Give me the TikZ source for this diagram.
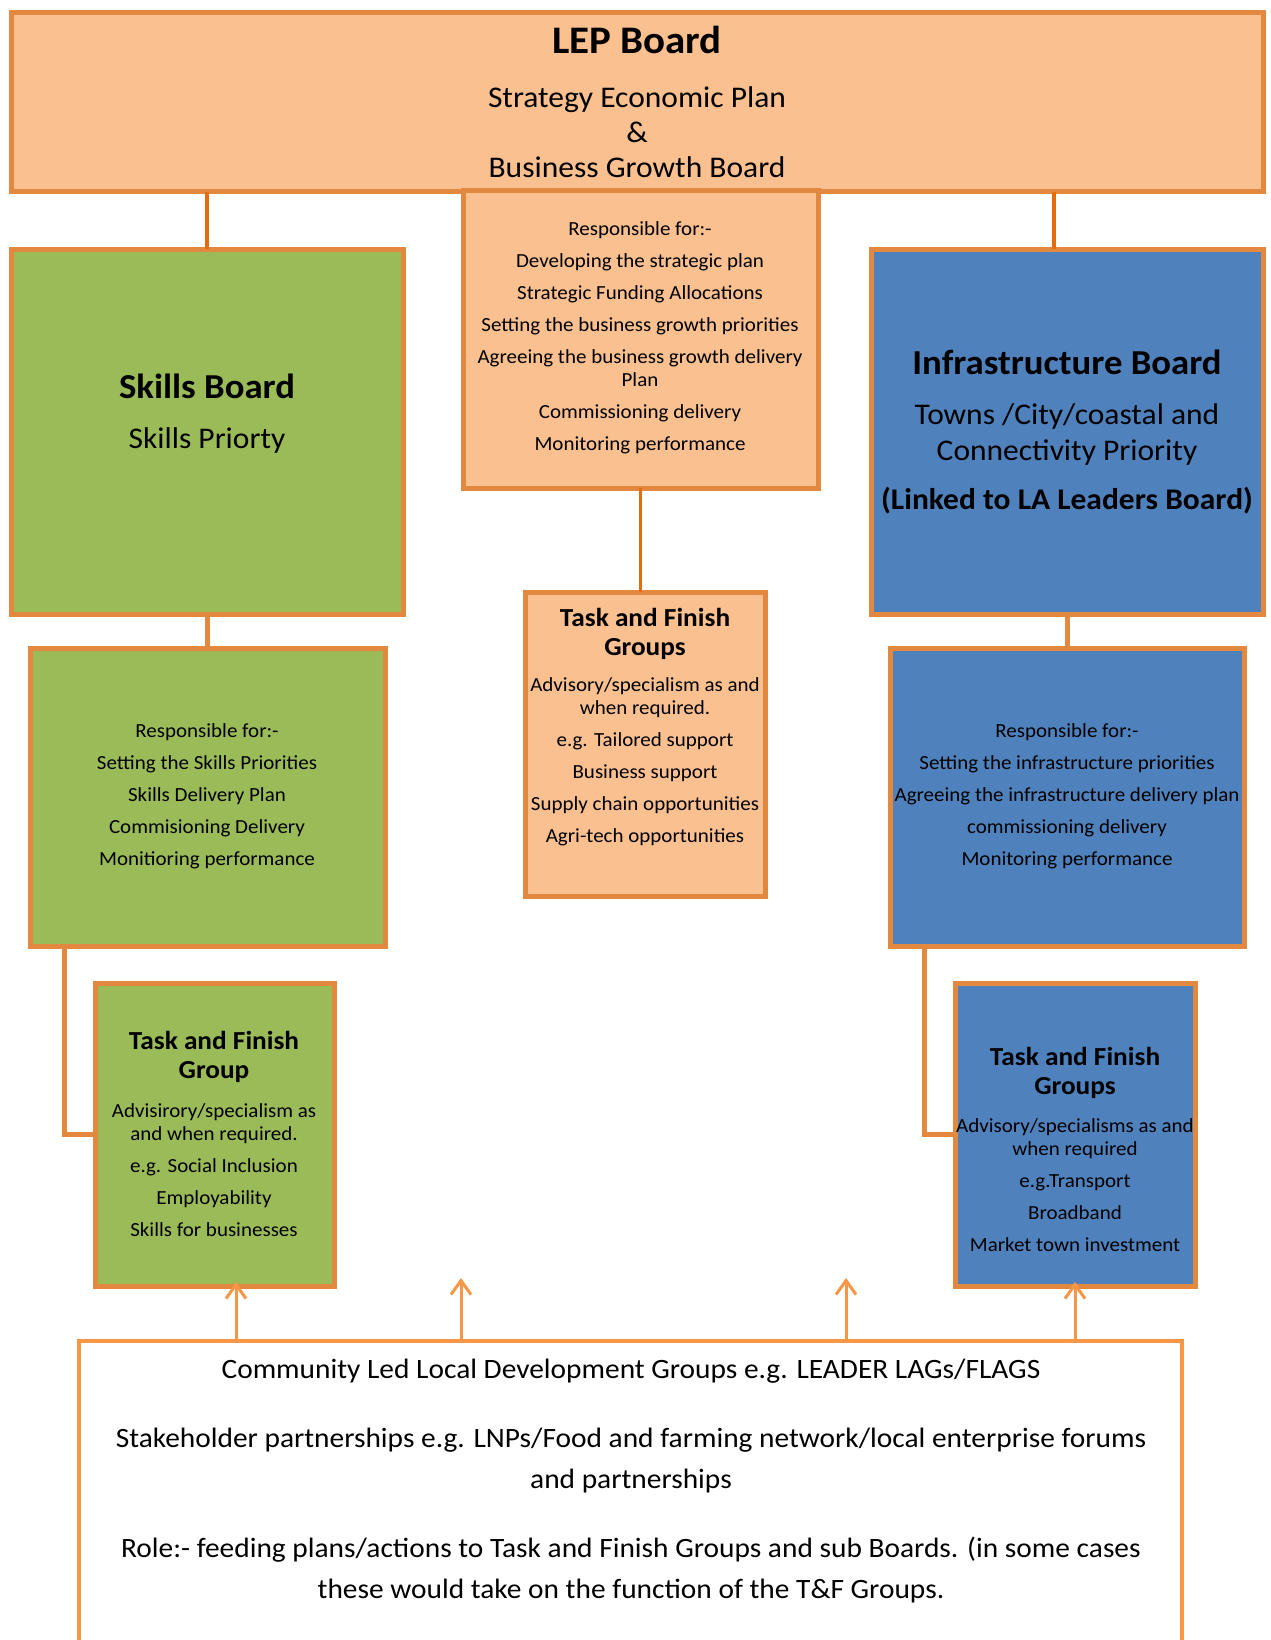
\documentclass[tikz,border=0pt]{standalone}
\usepackage{fontspec}
\setmainfont{Carlito}[FakeStretch=1.05]
\usetikzlibrary{arrows.meta}
\definecolor{peach}{HTML}{FAC090}
\definecolor{bord}{HTML}{E3893F}
\definecolor{darko}{HTML}{E46C0A}
\definecolor{grn}{HTML}{9BBB59}
\definecolor{blu}{HTML}{4F81BD}
\definecolor{arro}{HTML}{F79646}
\begin{document}
\begin{tikzpicture}[x=1pt,y=-1pt,
  boxs/.style={draw=bord,line width=5pt,rectangle,inner sep=0pt,outer sep=0pt,anchor=north west},
  txt/.style={align=center,inner sep=0pt,text=black},
  small/.style={txt,font=\fontsize{20}{23}\selectfont},
  tfh/.style={txt,font=\fontsize{26}{29}\selectfont\bfseries},
  bigh/.style={txt,font=\fontsize{35}{42}\selectfont\bfseries},
  subt/.style={txt,font=\fontsize{30}{36}\selectfont},
  bott/.style={txt,font=\fontsize{28}{41}\selectfont},
  lepl/.style={draw=darko,line width=3.5pt},
  conn/.style={draw=bord,line width=5pt},
  arrs/.style={draw=arro,line width=3pt,-{Straight Barb[length=14pt,width=20pt]}}
]
\useasboundingbox (0,0) rectangle (1270,1640);
\clip (0,0) rectangle (1270,1640);
\fill[white] (0,0) rectangle (1270,1640);

% connector coordinates
\coordinate (lx) at (1054,0);
\coordinate (e1) at (64,0);
\coordinate (e2) at (924,0);
\coordinate (t1) at (236,1282);
\coordinate (t2) at (461,1278);
\coordinate (t3) at (846,1278);
\coordinate (t4) at (1075,1282);

% top board
\node[boxs,fill=peach,minimum width=1252pt,minimum height=179pt] (lep) at (11,13) {};
\node[txt,font=\fontsize{39}{47}\selectfont\bfseries] (lepT) at (637,40) {LEP Board};
\node[subt,font=\fontsize{30}{35}\selectfont] (lepS) at (637,132) {Strategy Economic Plan\\\&\\Business Growth Board};

% sub boards
\node[boxs,fill=grn,minimum width=392pt,minimum height=365pt] (skb) at (11,249) {};
\node[boxs,fill=blu,minimum width=392pt,minimum height=365pt] (inb) at (871,249) {};

% connectors (drawn under boxes)
\draw[lepl] (lep.south -| skb.north) -- (skb.north);
\draw[lepl] (lep.south -| lx) -- (inb.north -| lx);

\node[boxs,fill=peach,minimum width=355pt,minimum height=297pt] (cresp) at (463,191) {};
\node[boxs,fill=peach,minimum width=240pt,minimum height=304pt] (ctf) at (525,592) {};
\draw[lepl] (cresp.south) -- (cresp.south |- ctf.north);

\node[boxs,fill=grn,minimum width=355pt,minimum height=298pt] (skr) at (30,648) {};
\node[boxs,fill=blu,minimum width=354pt,minimum height=298pt] (inr) at (890,648) {};
\draw[conn] (skb.south) -- (skb.south |- skr.north);
\draw[conn] (inb.south) -- (inb.south |- inr.north);

\node[boxs,fill=grn,minimum width=239pt,minimum height=303pt] (sktf) at (95,983) {};
\node[boxs,fill=blu,minimum width=240pt,minimum height=303pt] (intf) at (955,983) {};
\draw[conn,line join=miter] (skr.south -| e1) |- (sktf.west);
\draw[conn,line join=miter] (inr.south -| e2) |- (intf.west);

\node[boxs,draw=arro,line width=4pt,fill=white,minimum width=1103pt,minimum height=360pt] (bot) at (79,1341) {};

% texts
\node[small] (crespT) at (640,338) {Responsible for:-\\[9pt]Developing the strategic plan\\[9pt]Strategic Funding Allocations\\[9pt]Setting the business growth priorities\\[9pt]Agreeing the business growth delivery\\Plan\\[9pt]Commissioning delivery\\[9pt]Monitoring performance};

\node[bigh] (skbT) at (207,386) {Skills Board};
\node[subt] (skbS) at (207,440) {Skills Priorty};

\node[bigh] (inbT) at (1067,362) {Infrastructure Board};
\node[subt] (inbS) at (1067,434) {Towns /City/coastal and\\Connectivity Priority};
\node[subt,font=\fontsize{30}{36}\selectfont\bfseries] (inbL) at (1067,501) {(Linked to LA Leaders Board)};

\node[tfh] (ctfH) at (645,634) {Task and Finish\\Groups};
\node[small] (ctfB) at (645,762) {Advisory/specialism as and\\when required.\\[9pt]e.g. Tailored support\\[9pt]Business support\\[9pt]Supply chain opportunities\\[9pt]Agri-tech opportunities};

\node[small] (skrT) at (207,796) {Responsible for:-\\[9pt]Setting the Skills Priorities\\[9pt]Skills Delivery Plan\\[9pt]Commisioning Delivery\\[9pt]Monitioring performance};
\node[small] (inrT) at (1067,796) {Responsible for:-\\[9pt]Setting the infrastructure priorities\\[9pt]Agreeing the infrastructure delivery plan\\[9pt]commissioning delivery\\[9pt]Monitoring performance};

\node[tfh] (sktfH) at (214,1057) {Task and Finish\\Group};
\node[small] (sktfB) at (214,1170) {Advisirory/specialism as\\and when required.\\[9pt]e.g. Social Inclusion\\[9pt]Employability\\[9pt]Skills for businesses};

\node[tfh] (intfH) at (1075,1073) {Task and Finish\\Groups};
\node[small] (intfB) at (1075,1185) {Advisory/specialisms as and\\when required\\[9pt]e.g.Transport\\[9pt]Broadband\\[9pt]Market town investment};

\node[bott] (b1) at (631,1371) {Community Led Local Development Groups e.g. LEADER LAGs/FLAGS};
\node[bott] (b2) at (631,1461) {Stakeholder partnerships e.g. LNPs/Food and farming network/local enterprise forums\\and partnerships};
\node[bott] (b3) at (631,1570) {Role:- feeding plans/actions to Task and Finish Groups and sub Boards. (in some cases\\these would take on the function of the T\&F Groups.};

% arrows
\draw[arrs] (bot.north -| t1) -- (t1);
\draw[arrs] (bot.north -| t2) -- (t2);
\draw[arrs] (bot.north -| t3) -- (t3);
\draw[arrs] (bot.north -| t4) -- (t4);
\end{tikzpicture}
\end{document}
